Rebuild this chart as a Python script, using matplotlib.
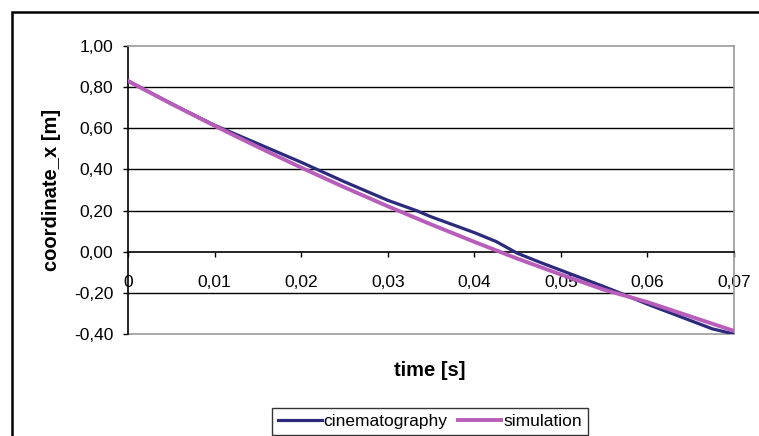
import numpy as np
import matplotlib.pyplot as plt
from matplotlib.patches import Rectangle
from matplotlib.ticker import FuncFormatter

plt.rcParams['font.family'] = ['Liberation Sans', 'DejaVu Sans']

# values
t_cine = [0.0, 0.005, 0.01, 0.015, 0.02, 0.025, 0.03, 0.0333, 0.035, 0.04,
          0.0425, 0.045, 0.0475, 0.05, 0.055, 0.0568, 0.06, 0.065, 0.0675, 0.07]
x_cine = [0.83, 0.72, 0.615, 0.525, 0.435, 0.34, 0.25, 0.2, 0.17, 0.093,
          0.05, -0.008, -0.05, -0.09, -0.17, -0.2, -0.255, -0.335, -0.375, -0.40]

t_sim = [0.0, 0.005, 0.01, 0.015, 0.02, 0.025, 0.03, 0.035, 0.04, 0.045,
         0.05, 0.055, 0.06, 0.065, 0.07]
x_sim = [0.83, 0.719, 0.612, 0.509, 0.409, 0.313, 0.221, 0.133, 0.048, -0.034,
         -0.111, -0.185, -0.245, -0.315, -0.385]

x_ticks = [0, 0.01, 0.02, 0.03, 0.04, 0.05, 0.06, 0.07]
y_ticks = [-0.4, -0.2, 0.0, 0.2, 0.4, 0.6, 0.8, 1.0]
grid_y = [-0.2, 0.2, 0.4, 0.6, 0.8]

W, H = 759, 436
fig = plt.figure(figsize=(W / 100, H / 100), dpi=100)
ax = fig.add_axes([128 / W, 1 - 334 / H, 606 / W, 288 / H])

# outer chart frame (cut off at right and bottom)
fig.patches.append(Rectangle((12 / W, -0.1), 1.2, 1.1 - 12 / H, transform=fig.transFigure,
                             fill=False, edgecolor='black', linewidth=1.8))

for g in grid_y:
    ax.axhline(g, color='black', linewidth=1.0, zorder=1)

ax.plot(t_cine, x_cine, color='#2B2A7C', linewidth=2.3, label='cinematography', zorder=3)
ax.plot(t_sim, x_sim, color='#B95DBA', linewidth=2.8, label='simulation', zorder=4)

ax.set_xlim(0, 0.07)
ax.set_ylim(-0.4, 1.0)

ax.spines['bottom'].set_position(('data', 0))
ax.spines['bottom'].set_linewidth(1.2)
ax.spines['left'].set_linewidth(1.2)
for s in ['top', 'right']:
    ax.spines[s].set_color('#999999')
    ax.spines[s].set_linewidth(1.2)
# gray border at bottom of plot area
ax.plot([0, 1], [0, 0], transform=ax.transAxes, color='#999999', linewidth=1.2,
        clip_on=False, zorder=2)

comma = FuncFormatter(lambda v, p: '0' if v == 0 else f'{v:.2f}'.replace('.', ','))
ax.set_xticks(x_ticks)
ax.set_yticks(y_ticks)
ax.xaxis.set_major_formatter(comma)
ax.yaxis.set_major_formatter(FuncFormatter(lambda v, p: f'{v:.2f}'.replace('.', ',')))
ax.tick_params(axis='x', direction='out', length=3.5, width=1, pad=13, labelsize=12.5)
ax.tick_params(axis='y', direction='out', length=3.5, width=1, pad=7, labelsize=12.5)

ax.set_xlabel('time [s]', fontsize=14.5, fontweight='bold')
ax.xaxis.set_label_coords((430 - 128) / 606, -(361 - 334) / 288)
ax.set_ylabel('coordinate_x [m]', fontsize=14.5, fontweight='bold')
ax.yaxis.set_label_coords(-(128 - 61) / 606, 0.5)

leg = fig.legend(loc='upper center', bbox_to_anchor=(430 / W, 1 - 408 / H), ncol=2,
                 frameon=True, fancybox=False, shadow=False, fontsize=12.5,
                 handlelength=2.5, handletextpad=0.1, columnspacing=0.6,
                 borderpad=0.35, borderaxespad=0)
leg.get_frame().set_edgecolor('black')
leg.get_frame().set_linewidth(1.0)

fig.savefig('out.png', dpi=100)
